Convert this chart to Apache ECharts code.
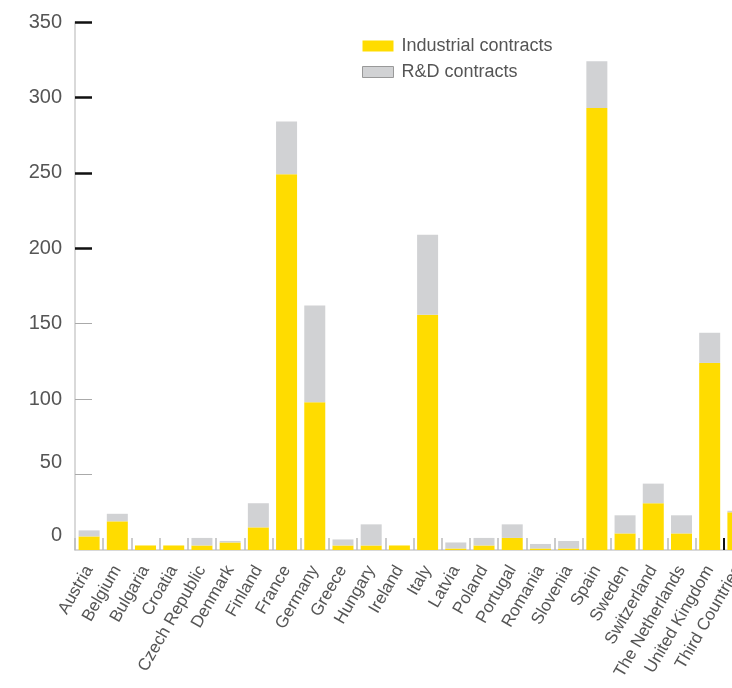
<!DOCTYPE html>
<html>
<head>
<meta charset="utf-8">
<style>
  html, body { margin: 0; padding: 0; background: #fff; }
  #chart { width: 732px; height: 688px; }
</style>
<script src="https://cdn.jsdelivr.net/npm/echarts@6/dist/echarts.min.js"></script>
</head>
<body>
<div id="chart"></div>
<script>
const countries = ['Austria', 'Belgium', 'Bulgaria', 'Croatia', 'Czech Republic', 'Denmark',
    'Finland', 'France', 'Germany', 'Greece', 'Hungary', 'Ireland', 'Italy', 'Latvia',
    'Poland', 'Portugal', 'Romania', 'Slovenia', 'Spain', 'Sweden', 'Switzerland',
    'The Netherlands', 'United Kingdom', 'Third Countries'];
const industrial = [9, 19, 3, 3, 3, 5, 15, 249, 98, 3, 3, 3, 156, 1, 3, 8, 1, 1, 293, 11, 31, 11, 124, 25];
const rnd = [4, 5, 0, 0, 5, 1, 16, 35, 64, 4, 14, 0, 53, 4, 5, 9, 3, 5, 31, 12, 13, 12, 20, 1];
const darkTicks = [200, 250, 300, 350];
const lightTicks = [50, 100, 150];

const YELLOW = '#ffdc00';
const GREY = '#d1d2d4';
const TEXT = '#555';
const FONT = '"Liberation Sans", Arial, sans-serif';

const chart = echarts.init(document.getElementById('chart'));
chart.setOption({
    animation: false,
    textStyle: {fontFamily: FONT},
    grid: {
        left: 75,
        top: 22,
        bottom: 138,
        width: 677,
        containLabel: false,
        outerBoundsMode: 'none',
    },
    legend: {
        orient: 'vertical',
        left: 362,
        top: 37,
        padding: 0,
        itemWidth: 31,
        itemHeight: 11,
        itemGap: 8,
        icon: 'rect',
        textStyle: {color: TEXT, fontSize: 18, fontFamily: FONT, padding: [0, 0, 0, 3]},
        data: [
            {name: 'Industrial contracts'},
            {name: 'R&D contracts', itemStyle: {borderColor: '#999', borderWidth: 1}},
        ],
    },
    xAxis: [
        {
            type: 'category',
            data: countries,
            axisLine: {lineStyle: {color: '#ccc', width: 1.5}},
            axisTick: {
                show: true,
                inside: true,
                length: 12,
                alignWithLabel: false,
                lineStyle: {color: '#bbb', width: 1.5},
            },
            axisLabel: {
                interval: 0,
                rotate: 60,
                margin: 17,
                color: TEXT,
                fontSize: 17,
                fontFamily: FONT,
            },
        },
        {
            // the lone black tick before Third Countries
            type: 'value',
            position: 'bottom',
            min: 0,
            max: countries.length,
            splitLine: {show: false},
            axisLine: {show: false},
            axisLabel: {show: false},
            axisTick: {
                show: true,
                inside: true,
                length: 12,
                customValues: [countries.length - 1],
                lineStyle: {color: '#111', width: 2},
            },
        },
    ],
    yAxis: [
        {
            type: 'value',
            min: 0,
            max: 350,
            interval: 50,
            splitLine: {show: false},
            axisLine: {show: true, lineStyle: {color: '#ccc', width: 1.5}},
            axisTick: {
                show: true,
                inside: true,
                length: 17,
                customValues: lightTicks,
                lineStyle: {color: '#aaa', width: 1},
            },
            axisLabel: {
                margin: 13,
                color: TEXT,
                fontSize: 20,
                fontFamily: FONT,
                formatter: (v) => {
                    if (v === 0) return '{low|0}';
                    if (v === 50) return '{mid|50}';
                    return String(v);
                },
                rich: {
                    low: {padding: [0, 0, 30, 0], fontSize: 20, color: TEXT, fontFamily: FONT},
                    mid: {padding: [0, 0, 24, 0], fontSize: 20, color: TEXT, fontFamily: FONT},
                },
            },
        },
        {
            type: 'value',
            position: 'left',
            min: 0,
            max: 350,
            interval: 50,
            splitLine: {show: false},
            axisLine: {show: false},
            axisLabel: {show: false},
            axisTick: {
                show: true,
                inside: true,
                length: 17,
                customValues: darkTicks,
                lineStyle: {color: '#111', width: 2.5},
            },
        },
    ],
    series: [
        {
            name: 'Industrial contracts',
            type: 'bar',
            stack: 'total',
            barWidth: 21,
            itemStyle: {color: YELLOW},
            data: industrial,
        },
        {
            name: 'R&D contracts',
            type: 'bar',
            stack: 'total',
            barWidth: 21,
            itemStyle: {color: GREY},
            data: rnd,
        },
    ],
});
</script>
</body>
</html>
